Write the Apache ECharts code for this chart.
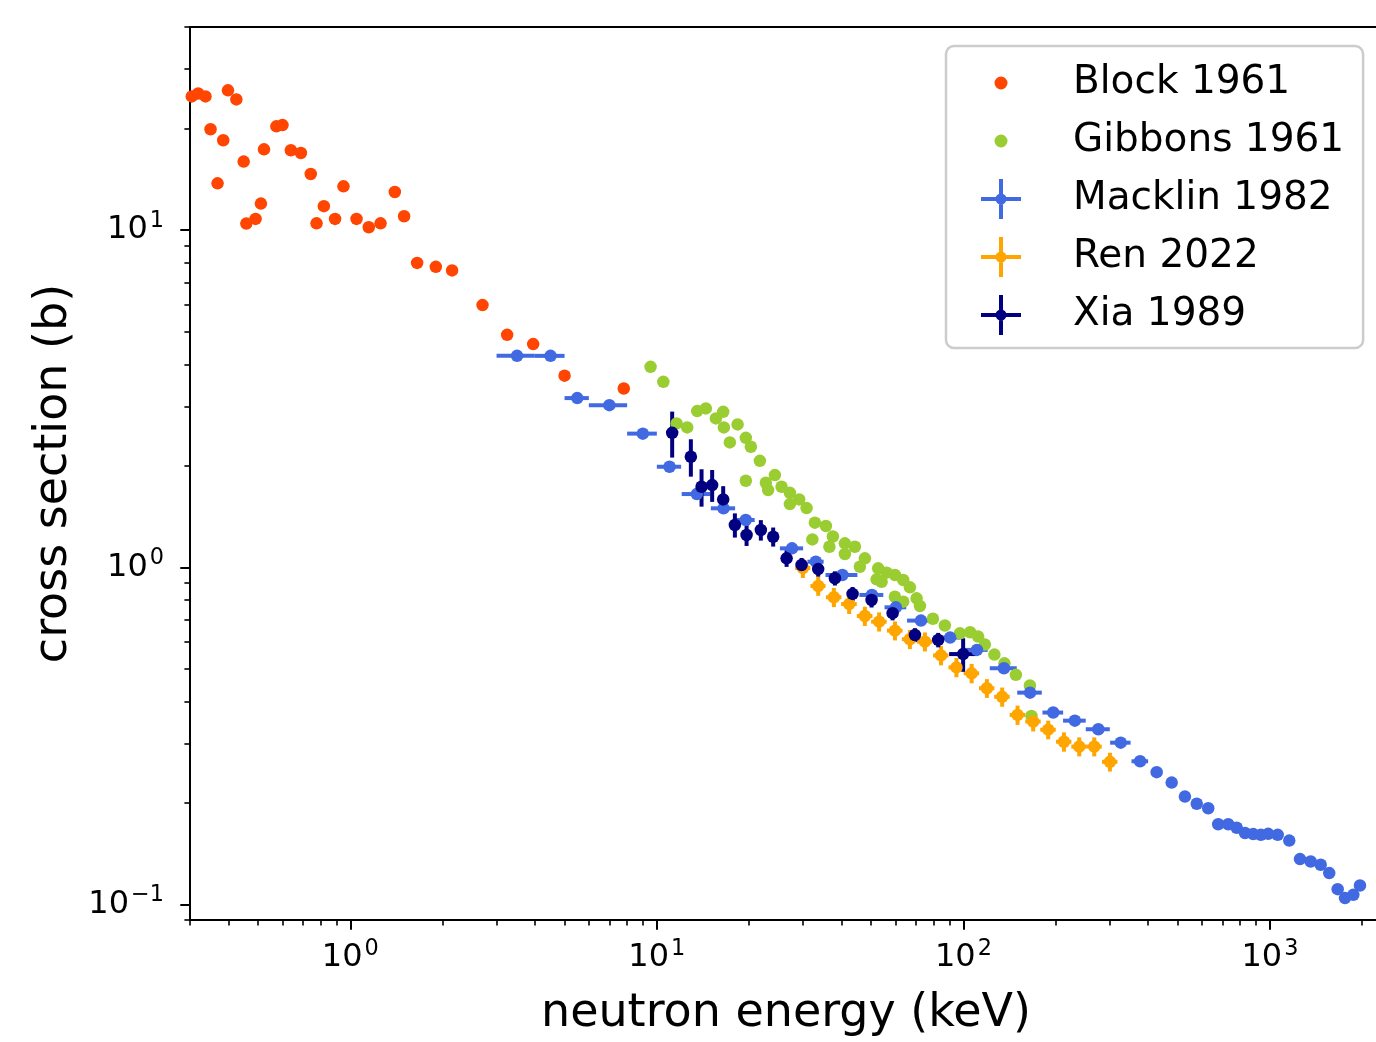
<!DOCTYPE html>
<html>
<head>
<meta charset="utf-8">
<script src="https://cdn.jsdelivr.net/npm/echarts@6.0.0/dist/echarts.min.js"></script>
<style>
html,body{margin:0;padding:0;background:#fff;}
#chart{width:1376px;height:1042px;}
</style>
</head>
<body>
<div id="chart"></div>
<script>
// ---------------- data ----------------
const blockE = [0.29, 0.304, 0.319, 0.337, 0.399, 0.425, 0.350, 0.385, 0.369, 0.449, 0.523, 0.511, 0.458, 0.491, 0.574, 0.601, 0.640, 0.690, 0.743, 0.950, 0.820, 0.776, 0.892, 1.048, 1.149, 1.255, 1.397, 1.498, 1.652, 1.901, 2.148, 2.70, 3.248, 3.95, 5.00, 7.80];
const blockS = [30.2, 24.9, 25.4, 24.9, 25.96, 24.4, 19.9, 18.46, 13.76, 15.96, 17.35, 11.98, 10.45, 10.79, 20.3, 20.48, 17.24, 16.92, 14.66, 13.48, 11.77, 10.47, 10.79, 10.79, 10.19, 10.47, 12.97, 10.99, 7.99, 7.78, 7.59, 5.99, 4.89, 4.59, 3.70, 3.39];

const gibbonsE = [9.54, 10.50, 11.60, 12.56, 13.54, 14.45, 15.58, 16.46, 16.54, 18.34, 17.30, 19.51, 20.26, 21.68, 19.51, 24.27, 22.68, 23.07, 25.52, 27.16, 29.13, 27.16, 30.79, 32.77, 35.60, 32.16, 37.52, 36.55, 41.06, 44.26, 41.06, 47.71, 45.95, 52.72, 56.16, 52.11, 54.10, 59.78, 63.63, 66.91, 59.78, 63.63, 70.37, 72.14, 79.53, 87.00, 97.41, 105.2, 111.7, 117.5, 126.2, 136.1, 148.3, 164.8, 166.7];
const gibbonsS = [3.930, 3.548, 2.671, 2.599, 2.905, 2.959, 2.764, 2.891, 2.599, 2.653, 2.346, 2.421, 2.277, 2.069, 1.806, 1.877, 1.781, 1.694, 1.733, 1.663, 1.590, 1.540, 1.498, 1.356, 1.326, 1.210, 1.234, 1.151, 1.178, 1.151, 1.095, 1.063, 1.004, 0.993, 0.964, 0.921, 0.906, 0.949, 0.917, 0.872, 0.818, 0.791, 0.809, 0.768, 0.704, 0.672, 0.637, 0.642, 0.623, 0.590, 0.551, 0.519, 0.480, 0.4465, 0.3625];

const macklinE = [3.5, 4.5, 5.5, 7.0, 9.0, 11.0, 13.5, 16.5, 19.5, 27.6, 33.0, 40.3, 50.3, 60.2, 72.7, 90.5, 110.7, 135.6, 165, 196.3, 231, 275.5, 326, 377, 427, 478, 528, 577, 629, 678, 731, 779, 829, 882, 934, 987, 1060, 1156, 1253, 1358, 1464, 1561, 1663, 1757, 1870, 1966];
const macklinS = [4.236, 4.236, 3.175, 3.026, 2.491, 1.987, 1.649, 1.496, 1.381, 1.138, 1.039, 0.949, 0.828, 0.761, 0.695, 0.619, 0.569, 0.502, 0.425, 0.371, 0.351, 0.331, 0.302, 0.266, 0.247, 0.230, 0.209, 0.199, 0.193, 0.173, 0.173, 0.169, 0.163, 0.1618, 0.161, 0.1621, 0.161, 0.1548, 0.1364, 0.1342, 0.1312, 0.1240, 0.1111, 0.1045, 0.1069, 0.1139];
const macklinXErr = [0.5, 0.5, 0.5, 1.0, 1.0, 1.0, 1.45, 1.5, 1.35, 2.4, 2.0, 4.8, 4.5, 4.9, 7.2, 7.5, 9.3, 13.7, 15.2, 15.2, 19.6, 24.8, 25, 23.5, 0, 0, 0, 0, 0, 0, 0, 0, 0, 0, 0, 0, 0, 0, 0, 0, 0, 0, 0, 0, 0, 0];

const renE = [29.95, 33.6, 37.8, 42.4, 47.7, 53.1, 59.8, 66.9, 74.9, 84.5, 94.9, 106.4, 119.3, 133.8, 150.2, 168.9, 189.1, 212.8, 238.7, 267.2, 300.6];
const renS = [0.995, 0.880, 0.815, 0.778, 0.717, 0.690, 0.649, 0.612, 0.602, 0.548, 0.505, 0.485, 0.438, 0.413, 0.365, 0.349, 0.330, 0.304, 0.294, 0.294, 0.265];
const renXErr = [1.7, 1.9, 2.2, 2.5, 2.8, 3.1, 3.5, 3.9, 4.3, 4.9, 5.5, 6.2, 6.9, 7.8, 8.7, 9.8, 11.0, 12.3, 13.8, 15.5, 17.4];
const renYErr = [0.065, 0.057, 0.053, 0.051, 0.047, 0.045, 0.042, 0.040, 0.039, 0.036, 0.033, 0.032, 0.028, 0.027, 0.024, 0.023, 0.021, 0.020, 0.019, 0.019, 0.017];

const xiaE = [11.22, 12.91, 13.99, 15.15, 16.46, 17.97, 19.62, 21.84, 23.96, 26.5, 29.66, 33.6, 38.1, 43.5, 50.17, 58.75, 69.48, 82.76, 99.8];
const xiaS = [2.505, 2.127, 1.733, 1.753, 1.590, 1.335, 1.247, 1.290, 1.232, 1.063, 1.016, 0.988, 0.928, 0.834, 0.800, 0.731, 0.630, 0.609, 0.553];
const xiaXErr = [0.2, 0.2, 0.2, 0.2, 0.2, 0.3, 0.3, 0.3, 0.4, 0.5, 0.6, 0.7, 0.8, 0.9, 1.0, 1.2, 1.4, 1.7, 10];
const xiaYErr = [0.39, 0.27, 0.22, 0.19, 0.15, 0.11, 0.09, 0.09, 0.08, 0.06, 0.05, 0.05, 0.045, 0.04, 0.04, 0.035, 0.03, 0.03, 0.063];

const xMajorTicks = [1, 10, 100, 1000];
const xMinorTicks = [0.3, 0.4, 0.5, 0.6, 0.7, 0.8, 0.9, 2, 3, 4, 5, 6, 7, 8, 9, 20, 30, 40, 50, 60, 70, 80, 90, 200, 300, 400, 500, 600, 700, 800, 900, 2000];
const yMajorTicks = [0.1, 1, 10];
const yMinorTicks = [0.09, 0.2, 0.3, 0.4, 0.5, 0.6, 0.7, 0.8, 0.9, 2, 3, 4, 5, 6, 7, 8, 9, 20, 30, 40];

// ---------------- styling ----------------
const FONT = 'DejaVu Sans';
const C = {block: '#ff4500', gibbons: '#9acd32', macklin: '#4169e1', ren: '#ffa500', xia: '#000080'};
const X_MIN = 0.3, X_MAX = 2320, Y_MIN = 0.09, Y_MAX = 40;
const MS = 12.5;   // marker diameter
const EW = 4;      // error bar line width

const DOT_ICON = 'path://M0,0H0.01V0.01H0Z M39.99,39.99H40V40H39.99Z M13.5,20A6.5,6.5,0,1,1,26.5,20A6.5,6.5,0,1,1,13.5,20Z';
const CROSS_ICON = 'path://M0,18H40V22H0Z M18,0H22V40H18Z M14.5,20A5.5,5.5,0,1,1,25.5,20A5.5,5.5,0,1,1,14.5,20Z';

function pts(E, S) { return E.map((e, i) => [e, S[i]]); }
function errPts(E, S, XE, YE) { return E.map((e, i) => [e, S[i], XE ? XE[i] : 0, YE ? YE[i] : 0]); }

function barRenderer(color) {
  return function (params, api) {
    const x = api.value(0), y = api.value(1), xe = api.value(2), ye = api.value(3);
    const children = [];
    if (xe > 0) {
      const a = api.coord([x - xe, y]), b = api.coord([x + xe, y]);
      children.push({type: 'line', shape: {x1: a[0], y1: a[1], x2: b[0], y2: b[1]}, style: {stroke: color, lineWidth: EW}});
    }
    if (ye > 0) {
      const a = api.coord([x, y - ye]), b = api.coord([x, y + ye]);
      children.push({type: 'line', shape: {x1: a[0], y1: a[1], x2: b[0], y2: b[1]}, style: {stroke: color, lineWidth: EW}});
    }
    return {type: 'group', children: children};
  };
}

function supLabel(v) {
  const e = Math.round(Math.log10(v));
  const s = e < 0 ? '\u2212' + (-e) : String(e);
  return '{b|10}{s|' + s + '}';
}
const labelRich = {
  b: {fontFamily: FONT, fontSize: 32, color: '#000', lineHeight: 40},
  s: {fontFamily: FONT, fontSize: 22.4, color: '#000', lineHeight: 22, verticalAlign: 'top', padding: [0, 0, 0, 2]}
};

function scatterSeries(name, data, color, z) {
  return {name: name, type: 'scatter', data: data, symbol: 'circle', symbolSize: MS,
    itemStyle: {color: color, opacity: 1}, z: z, silent: true, clip: true,
    emphasis: {disabled: true}, xAxisIndex: 0, yAxisIndex: 0};
}
function barSeries(name, data, color, z) {
  return {name: name, type: 'custom', data: data, renderItem: barRenderer(color),
    encode: {x: 0, y: 1}, clip: true, z: z, silent: true, xAxisIndex: 0, yAxisIndex: 0};
}

const chart = echarts.init(document.getElementById('chart'), null, {renderer: 'canvas'});
chart.setOption({
  animation: false,
  backgroundColor: '#ffffff',
  textStyle: {fontFamily: FONT},
  grid: {left: 190, top: 27, width: 1192, height: 893, show: true, borderColor: '#000', borderWidth: 2,
         backgroundColor: 'transparent', containLabel: false, outerBoundsMode: 'none'},
  legend: {
    orient: 'vertical', left: 946, top: 46, padding: [17, 19, 13, 35],
    itemGap: 18, itemWidth: 40, itemHeight: 40,
    backgroundColor: 'rgba(255,255,255,0.8)', borderColor: '#cccccc', borderWidth: 2.5, borderRadius: 8,
    textStyle: {fontFamily: FONT, fontSize: 39, color: '#000', lineHeight: 40, padding: [0, 0, 0, 47]},
    selectedMode: false,
    data: [
      {name: 'Block 1961', icon: DOT_ICON, itemStyle: {color: C.block}},
      {name: 'Gibbons 1961', icon: DOT_ICON, itemStyle: {color: C.gibbons}},
      {name: 'Macklin 1982', icon: CROSS_ICON, itemStyle: {color: C.macklin}},
      {name: 'Ren 2022', icon: CROSS_ICON, itemStyle: {color: C.ren}},
      {name: 'Xia 1989', icon: CROSS_ICON, itemStyle: {color: C.xia}}
    ]
  },
  xAxis: [{
    type: 'log', logBase: 10, min: X_MIN, max: X_MAX, position: 'bottom',
    name: 'neutron energy (keV)', nameLocation: 'middle', nameGap: 71,
    nameTextStyle: {fontFamily: FONT, fontSize: 46, color: '#000'},
    axisLine: {show: true, onZero: false, lineStyle: {color: '#000', width: 2}},
    axisTick: {show: true, length: 9.7, lineStyle: {color: '#000', width: 2}, customValues: xMajorTicks},
    axisLabel: {show: true, margin: 18, formatter: supLabel, rich: labelRich, customValues: xMajorTicks},
    splitLine: {show: false}, minorTick: {show: false}
  }, {
    type: 'log', logBase: 10, min: X_MIN, max: X_MAX, position: 'bottom', offset: 0,
    axisLine: {show: false},
    axisTick: {show: true, length: 5.6, lineStyle: {color: '#000', width: 1.6}, customValues: xMinorTicks},
    axisLabel: {show: false}, splitLine: {show: false}
  }],
  yAxis: [{
    type: 'log', logBase: 10, min: Y_MIN, max: Y_MAX, position: 'left',
    name: 'cross section (b)', nameLocation: 'middle', nameGap: 111,
    nameTextStyle: {fontFamily: FONT, fontSize: 46, color: '#000'},
    axisLine: {show: true, onZero: false, lineStyle: {color: '#000', width: 2}},
    axisTick: {show: true, length: 9.7, lineStyle: {color: '#000', width: 2}, customValues: yMajorTicks},
    axisLabel: {show: true, margin: 26, formatter: supLabel, rich: labelRich, customValues: yMajorTicks},
    splitLine: {show: false}, minorTick: {show: false}
  }, {
    type: 'log', logBase: 10, min: Y_MIN, max: Y_MAX, position: 'left', offset: 0,
    axisLine: {show: false},
    axisTick: {show: true, length: 5.6, lineStyle: {color: '#000', width: 1.6}, customValues: yMinorTicks},
    axisLabel: {show: false}, splitLine: {show: false}
  }],
  series: [
    scatterSeries('Block 1961', pts(blockE, blockS), C.block, 2),
    scatterSeries('Gibbons 1961', pts(gibbonsE, gibbonsS), C.gibbons, 2),
    barSeries('Macklin 1982', errPts(macklinE, macklinS, macklinXErr, null), C.macklin, 2),
    barSeries('Ren 2022', errPts(renE, renS, renXErr, renYErr), C.ren, 2),
    barSeries('Xia 1989', errPts(xiaE, xiaS, xiaXErr, xiaYErr), C.xia, 2),
    scatterSeries('Macklin 1982', pts(macklinE, macklinS), C.macklin, 3),
    scatterSeries('Ren 2022', pts(renE, renS), C.ren, 3),
    scatterSeries('Xia 1989', pts(xiaE, xiaS), C.xia, 3)
  ]
});
</script>
</body>
</html>
